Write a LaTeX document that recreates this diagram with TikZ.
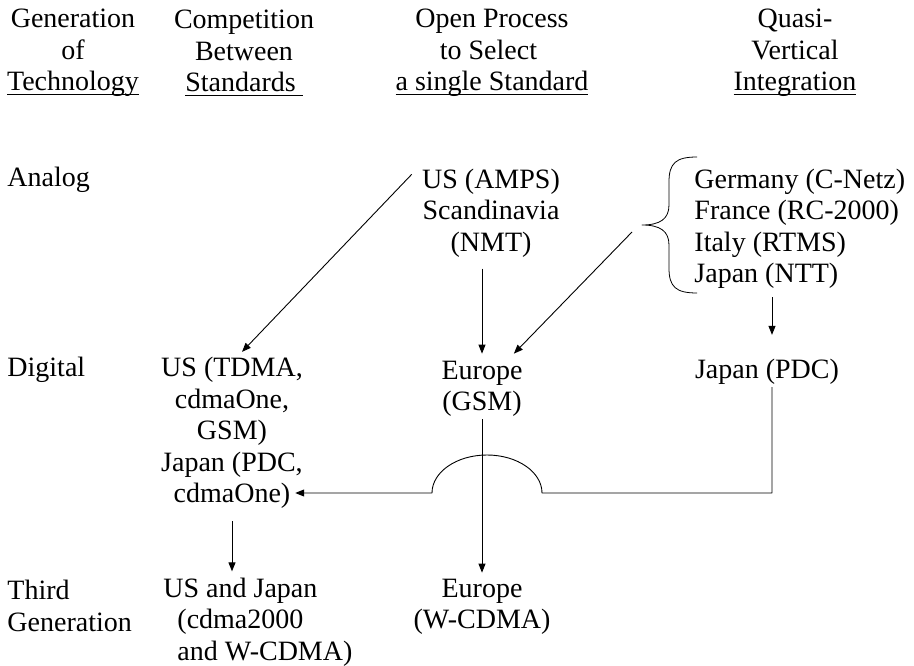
\documentclass[tikz,border=0pt]{standalone}
\usepackage{fontspec}
\setmainfont{Liberation Serif}
\usetikzlibrary{arrows.meta}
\newcommand{\ulhead}[1]{\setbox0\hbox{#1}\rlap{\rule[-4.5pt]{\wd0}{1.2pt}}\box0}
\begin{document}
\begin{tikzpicture}[x=1pt, y=-1pt, line width=0.9pt, line join=round, >={Triangle[length=9pt,width=7pt]},
	font=\fontsize{28}{31.5}\selectfont,
	txt/.style={inner sep=0pt, align=center},
	txtl/.style={inner sep=0pt, align=left, anchor=west}]
	\def\yh{53} \def\ya{180} \def\yb{370}
	\useasboundingbox (0,0) rectangle (914,666);
	% column heads
	\path 
	(73,\yh) node[txt] (hdgen) {Generation\\of\\\ulhead{Technology}}
	(244,\yh) node[txt] (hdcomp) {Competition\\Between\\\ulhead{Standards\ }}
	(492,\yh) node[txt] (hdopen) {Open Process\\to Select\hphantom{\ }\\\ulhead{a single Standard}}
	(795,\yh) node[txt] (hdquasi) {Quasi-\\Vertical\\\ulhead{Integration}};
	% row heads
	\path 
	(7,\ya) node[txtl] (analog) {Analog}
	(7,\yb) node[txtl] (digital) {Digital}
	(7,606) node[txtl] (third) {Third\\Generation};
	% entries
	\path 
	(491,213) node[txt] (amps) {US (AMPS)\\Scandinavia\\(NMT)}
	(694,229) node[txtl] (euanalog) {Germany (C-Netz)\\France (RC-2000)\\Italy (RTMS)\\Japan (NTT)}
	(232,433) node[txt] (usdig) {US (TDMA,\\cdmaOne,\\GSM)\\Japan (PDC,\\cdmaOne)}
	(482,389) node[txt] (eudig) {Europe\\(GSM)}
	(767,372) node[txt] (jpdig) {Japan (PDC)}
	(163,622) node[txtl] (usthird) {US and Japan\\\hphantom{\ \ }(cdma2000\\\hphantom{\ \ }and W-CDMA)}
	(482,607) node[txt] (euthird) {Europe\\(W-CDMA)};
	% brace
	\draw[line width=0.8pt] (697,157) .. controls (676,157) and (669,163) .. (669,182) -- (669,205) 
	  .. controls (669,219) and (660,225) .. (642,225) .. controls (660,225) and (669,231) .. (669,245) 
	  -- (669,268) .. controls (669,287) and (676,293) .. (697,293);
	\coordinate (brtip) at (642,225);
	% helper points
	\coordinate (nmtx) at (eudig.north |- amps.south);
	\coordinate (jpx) at ([xshift=5pt]jpdig.north);
	\coordinate (pdcin) at (jpx |- euanalog.south);
	\coordinate (pdcout) at (jpx |- jpdig.south);
	\coordinate (back) at ([yshift=-60pt]usdig.east);
	\coordinate (hop) at (eudig.south |- back);
	\coordinate (cdx) at (usdig.south |- usthird.north);
	% arrows
	\draw[->] ([shift={(-10pt,-6pt)}]amps.north west) -- ([xshift=10pt,yshift=5pt]usdig.north);
	\draw[->] ([yshift=-11pt]nmtx) -- ([yshift=7pt]eudig.north);
	\draw[->] ([shift={(-10pt,-7pt)}]brtip) -- ([shift={(-9pt,7pt)}]eudig.north east);
	\draw[->] ([yshift=-8pt]pdcin) -- ([yshift=24pt]jpx);
	\draw[->] ([yshift=-2pt]pdcout) |- ([xshift=60pt]hop) arc[start angle=0, end angle=180, x radius=55pt, y radius=38pt] -- ([xshift=-8pt]back);
	\draw[->] ([yshift=-2pt]eudig.south) -- ([yshift=6pt]euthird.north);
	\draw[->] ([yshift=-12pt]usdig.south) -- ([yshift=6pt]cdx);
\end{tikzpicture}
\end{document}
